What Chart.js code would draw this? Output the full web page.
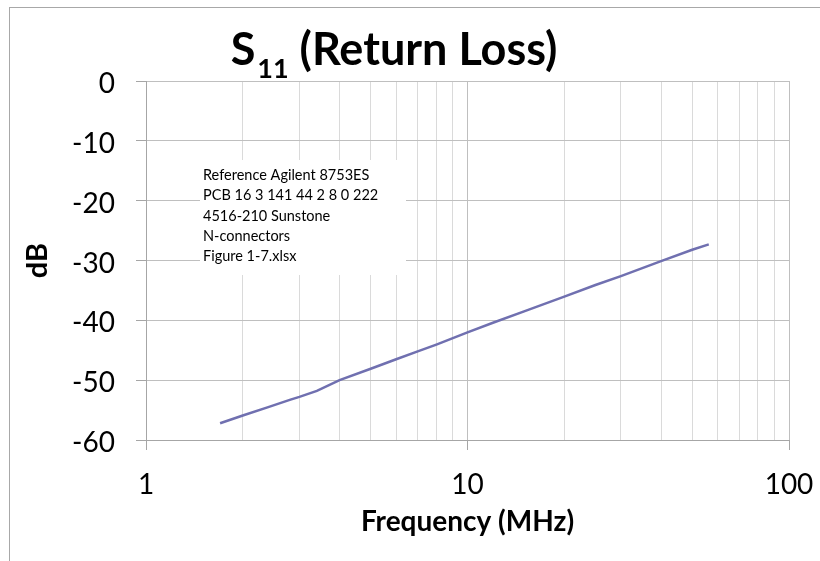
<!DOCTYPE html>
<html><head><meta charset="utf-8">
<script src="https://cdn.jsdelivr.net/npm/chart.js@4.4.1/dist/chart.umd.min.js"></script>
<style>html,body{margin:0;padding:0;background:#fff;}#wrap{width:820px;height:561px;position:relative;}</style>
</head><body><div id="wrap"><canvas id="c" width="820" height="561"></canvas></div>
<script>
// ---- data ----
const frequencies   = [1.7, 2.0, 2.4, 2.8, 3.0, 3.4, 4.0, 5, 6, 7, 8, 10, 12, 15, 20, 25, 30, 40, 50, 56.3];
const returnLossDb  = [-57.2, -55.9, -54.5, -53.3, -52.8, -51.8, -50.0, -48.1, -46.5, -45.2, -44.05, -42.0, -40.4, -38.5, -36.05, -34.1, -32.6, -30.1, -28.2, -27.3];
const xTickValues   = [1,2,3,4,5,6,7,8,9,10,20,30,40,50,60,70,80,90,100];
const xLabelValues  = [1, 10, 100];
const yTickValues   = [0, -10, -20, -30, -40, -50, -60];
const titleMain = 'S', titleSub = '11', titleRest = ' (Return Loss)';
const xAxisTitle = 'Frequency (MHz)';
const yAxisTitle = 'dB';
const noteLines = ['Reference Agilent 8753ES', 'PCB 16 3 141 44 2 8 0 222', '4516-210 Sunstone', 'N-connectors', 'Figure 1-7.xlsx'];

Chart.defaults.font.family = 'Lato';
Chart.defaults.color = '#000';

const frameAndText = {
  id: 'frameAndText',
  beforeDraw(chart) {
    const ctx = chart.ctx;
    ctx.save();
    ctx.fillStyle = '#fff';
    ctx.fillRect(0, 0, chart.width, chart.height);
    ctx.strokeStyle = '#a8a8a8';
    ctx.lineWidth = 1;
    ctx.strokeRect(9.5, 7.5, 900, 700);
    ctx.restore();
  },
  beforeDatasetsDraw(chart) {
    const ctx = chart.ctx;
    const a = chart.chartArea;
    ctx.save();
    const bx = a.left + 54, by = a.top + 79;
    ctx.fillStyle = '#fff';
    ctx.fillRect(bx, by, 206, 115);
    ctx.fillStyle = '#000';
    ctx.font = '14.5px Lato';
    ctx.textBaseline = 'alphabetic';
    ctx.textAlign = 'left';
    noteLines.forEach((t, i) => ctx.fillText(t, bx + 3, by + 20 + i * 20.3));
    ctx.restore();
  },
  afterDraw(chart) {
    const ctx = chart.ctx;
    ctx.save();
    ctx.fillStyle = '#000';
    ctx.textBaseline = 'alphabetic';
    ctx.textAlign = 'left';
    const fMain = 'bold 45px Lato', fSub = 'bold 27px Lato';
    ctx.font = fMain; const w1 = ctx.measureText(titleMain).width; const w3 = ctx.measureText(titleRest).width;
    ctx.font = fSub; const w2 = ctx.measureText(titleSub).width;
    const total = w1 + 2 + w2 + w3;
    let x = 394 - total / 2;
    ctx.font = fMain; ctx.fillText(titleMain, x, 65); x += w1 + 2;
    ctx.font = fSub; ctx.fillText(titleSub, x, 78); x += w2;
    ctx.font = fMain; ctx.fillText(titleRest, x, 65);
    ctx.restore();
  }
};

const majorSet = new Set(xLabelValues);

new Chart(document.getElementById('c'), {
  type: 'line',
  data: {
    datasets: [{
      data: frequencies.map((f, i) => ({ x: f, y: returnLossDb[i] })),
      borderColor: 'rgb(112,112,176)',
      borderWidth: 2.5,
      pointRadius: 0,
      tension: 0,
      fill: false
    }]
  },
  options: {
    responsive: false,
    animation: false,
    devicePixelRatio: 1,
    layout: { padding: { left: 10, top: 81, right: 31, bottom: 0 } },
    plugins: { legend: { display: false }, tooltip: { enabled: false }, title: { display: false } },
    scales: {
      x: {
        type: 'logarithmic',
        min: 1, max: 100,
        afterBuildTicks(s) { s.ticks = xTickValues.map(v => ({ value: v, major: majorSet.has(v) })); },
        afterFit(s) { s.height = 121; s.paddingLeft = 0; s.paddingRight = 0; },
        ticks: {
          autoSkip: false, maxRotation: 0, minRotation: 0,
          font: { size: 28 }, padding: 18,
          callback: (v) => majorSet.has(v) ? String(v) : ''
        },
        grid: {
          color: (c) => (c.tick && majorSet.has(c.tick.value)) ? '#bfbfbf' : '#dadada',
          tickColor: (c) => (c.tick && majorSet.has(c.tick.value)) ? '#a6a6a6' : 'rgba(0,0,0,0)',
          tickLength: 10,
          lineWidth: 1
        },
        border: { color: '#a6a6a6' },
        title: { display: true, text: xAxisTitle, font: { size: 28, weight: 'bold' }, padding: { top: 0, bottom: 22 } }
      },
      y: {
        type: 'linear',
        min: -60, max: 0,
        afterBuildTicks(s) { s.ticks = yTickValues.map(v => ({ value: v })); },
        afterFit(s) { s.width = 136; s.paddingTop = 0; s.paddingBottom = 0; },
        ticks: { font: { size: 28 }, padding: 21, labelOffset: 3 },
        grid: { color: '#bfbfbf', tickColor: '#a6a6a6', tickLength: 10, lineWidth: 1 },
        border: { color: '#a6a6a6' },
        title: { display: true, text: yAxisTitle, font: { size: 29, weight: 'bold' }, padding: { top: 10, bottom: 0 } }
      }
    }
  },
  plugins: [frameAndText]
});
</script>
</body></html>
